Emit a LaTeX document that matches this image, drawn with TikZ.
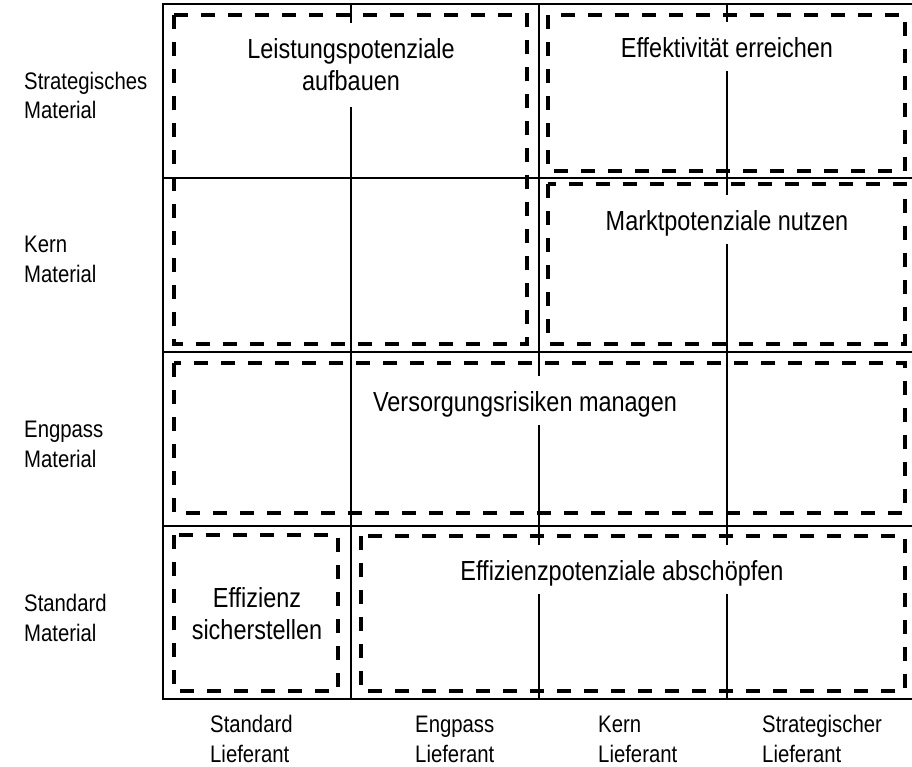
\documentclass[tikz,border=0pt]{standalone}
\usepackage{fontspec}
\setmainfont{Liberation Sans}[FakeStretch=0.85]
\usepackage{tikz}

\newcommand{\feldschrift}{\fontsize{27.6pt}{32pt}\selectfont}
\newcommand{\achsenschrift}{\fontsize{23.9pt}{29.5pt}\selectfont}

\tikzset{
  gitter/.style={line width=1.3pt},
  bereich/.style={line width=3.6pt, dash pattern=on 14pt off 13pt},
  ziel/.style={fill=white, align=center, font=\feldschrift, inner xsep=6pt},
  zeile/.style={ziel, anchor=base, text height=21.5pt, text depth=0.5pt, inner ysep=13.5pt},
  achse/.style={align=left, font=\achsenschrift, inner sep=0pt, anchor=base west},
}

\begin{document}
\begin{tikzpicture}[x=1pt, y=-1pt]
    \useasboundingbox (0,0) rectangle (912,766);

    \begin{scope}
        \clip (0,0) rectangle (912,766);
        \draw[gitter] (163,4) rectangle (915,699);
        \draw[gitter] (351,4) -- (351,699) (539,4) -- (539,699) (727,4) -- (727,699);
        \draw[gitter] (163,178) -- (915,178) (163,352) -- (915,352) (163,526) -- (915,526);
    \end{scope}

    \draw[bereich] (174,15)  rectangle (527,344);
    \draw[bereich] (548,15)  rectangle (905,171);
    \draw[bereich] (548,184) rectangle (905,344);
    \draw[bereich] (174,363) rectangle (905,513);
    \draw[bereich] (174,535) rectangle (338,691);
    \draw[bereich] (361,536) rectangle (905,691);

    \node[ziel, minimum height=84pt] (leistung) at (351,64.5) {Leistungspotenziale\\aufbauen};
    \node[zeile] (effektiv)  at (727,57)  {Effektivität erreichen};
    \node[zeile] (markt)     at (727,230) {Marktpotenziale nutzen};
    \node[zeile] (versorgung) at (525,411) {Versorgungsrisiken managen};
    \node[ziel] (effizienz)  at (257,613.5) {Effizienz\\sicherstellen};
    \node[zeile] (abschoepfen) at (622,580) {Effizienzpotenziale abschöpfen};

    \node[achse] (mstrat)    at (24,118.5) {Strategisches\\Material};
    \node[achse] (mkern)     at (24,282)   {Kern\\Material};
    \node[achse] (mengpass)  at (24,467)   {Engpass\\Material};
    \node[achse] (mstandard) at (24,641)   {Standard\\Material};

    \node[achse] (lstandard) at (210,762) {Standard\\Lieferant};
    \node[achse] (lengpass)  at (415,762) {Engpass\\Lieferant};
    \node[achse] (lkern)     at (598,762) {Kern\\Lieferant};
    \node[achse] (lstrat)    at (762,762) {Strategischer\\Lieferant};
\end{tikzpicture}
\end{document}
